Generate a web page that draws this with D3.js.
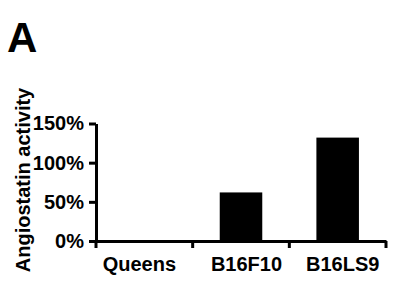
<!DOCTYPE html>
<html>
<head>
<meta charset="utf-8">
<script src="https://cdn.jsdelivr.net/npm/d3@7"></script>
<style>
  body { margin: 0; background: #fff; }
  text { font-family: Arial, "Liberation Sans", sans-serif; font-weight: bold; }
</style>
</head>
<body>
<div id="chart"></div>
<script>
// data
const categories = ["Queens", "B16F10", "B16LS9"];
const activity = [0, 62, 132];
const yTicks = [0, 50, 100, 150];

const WIDTH = 394;
const HEIGHT = 294;
const MARGINS = { left: 96, right: 8, top: 123.5, bottom: 53 };

// label nudges seen in the original layout
const labelShift = [-5, 5.5, 5];

const svg = d3.select("#chart")
    .append("svg")
    .attr("width", WIDTH)
    .attr("height", HEIGHT);

const xScale = d3.scaleBand()
    .domain(categories)
    .range([MARGINS.left, 386])
    .paddingInner(0)
    .paddingOuter(0);

const yScale = d3.scaleLinear()
    .domain([0, 150])
    .range([HEIGHT - MARGINS.bottom, MARGINS.top]);

// bars
const barW = xScale.bandwidth() * 0.44;
svg.selectAll(".bar")
    .data(categories)
    .enter()
    .append("rect")
    .attr("class", "bar")
    .attr("x", (d) => xScale(d) + (xScale.bandwidth() - barW) / 2)
    .attr("y", (d, i) => yScale(activity[i]))
    .attr("width", barW)
    .attr("height", (d, i) => yScale(0) - yScale(activity[i]))
    .attr("fill", "#000");

// y axis
const yAxis = svg.append("g")
    .attr("transform", "translate(" + MARGINS.left + ",0)")
    .call(d3.axisLeft(yScale)
        .tickValues(yTicks)
        .tickFormat((d) => d + "%")
        .tickSize(7)
        .tickSizeOuter(0)
        .tickPadding(5));
yAxis.select(".domain").attr("stroke-width", 3);
yAxis.selectAll(".tick line").attr("stroke-width", 3);
yAxis.selectAll(".tick text")
    .attr("font-size", 20)
    .attr("fill", "#000");

// x axis (labels)
const xAxis = svg.append("g")
    .attr("transform", "translate(0," + yScale(0) + ")")
    .call(d3.axisBottom(xScale).tickSize(0).tickSizeOuter(0).tickPadding(16));
xAxis.select(".domain").attr("stroke-width", 3);
xAxis.selectAll(".tick text")
    .attr("font-size", 20)
    .attr("fill", "#000")
    .attr("dx", (d, i) => labelShift[i]);

// boundary ticks between categories
const bounds = categories.map((d) => xScale(d)).concat([xScale(categories[categories.length - 1]) + xScale.bandwidth()]);
svg.selectAll(".xtick")
    .data(bounds)
    .enter()
    .append("line")
    .attr("class", "xtick")
    .attr("x1", (d) => d)
    .attr("x2", (d) => d)
    .attr("y1", yScale(0))
    .attr("y2", yScale(0) + 7)
    .attr("stroke", "#000")
    .attr("stroke-width", 3);

// axis title
svg.append("text")
    .attr("transform", "translate(29.5,180) rotate(-90)")
    .attr("text-anchor", "middle")
    .attr("font-size", 20)
    .text("Angiostatin activity");

// panel letter
svg.append("text")
    .attr("x", 7)
    .attr("y", 52)
    .attr("font-size", 42)
    .text("A");
</script>
</body>
</html>
